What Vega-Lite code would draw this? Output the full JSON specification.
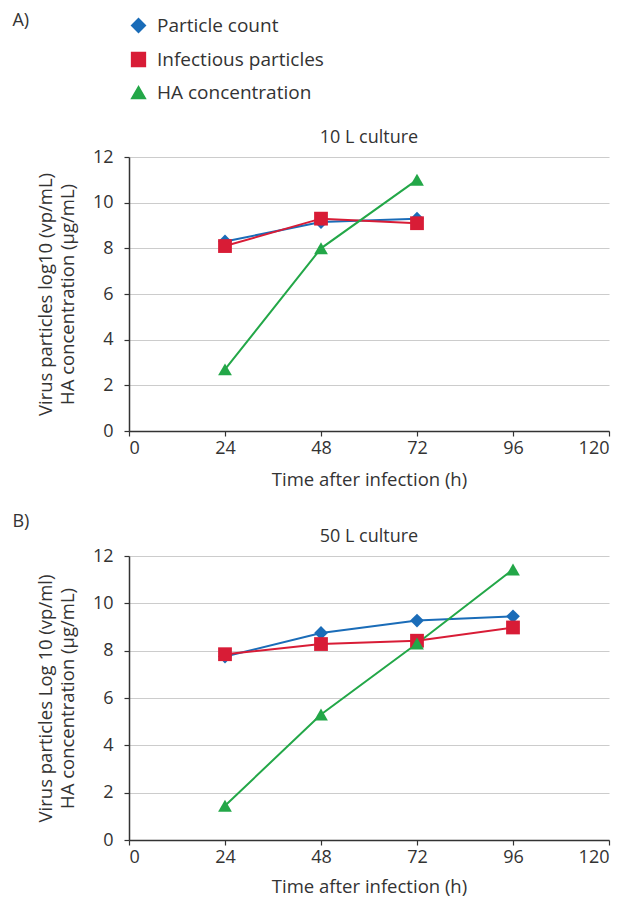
{
  "$schema": "https://vega.github.io/schema/vega-lite/v6.json",
  "background": "white",
  "padding": {"left": 12, "top": 12, "right": 10, "bottom": 0},
  "spacing": 24,
  "datasets": {
    "tenL": [
      {"time": 24, "series": "Particle count", "value": 8.3},
      {"time": 48, "series": "Particle count", "value": 9.15},
      {"time": 72, "series": "Particle count", "value": 9.3},
      {"time": 24, "series": "Infectious particles", "value": 8.1},
      {"time": 48, "series": "Infectious particles", "value": 9.3},
      {"time": 72, "series": "Infectious particles", "value": 9.1},
      {"time": 24, "series": "HA concentration", "value": 2.7},
      {"time": 48, "series": "HA concentration", "value": 8.0},
      {"time": 72, "series": "HA concentration", "value": 11.0}
    ],
    "fiftyL": [
      {"time": 24, "series": "Particle count", "value": 7.75},
      {"time": 48, "series": "Particle count", "value": 8.75},
      {"time": 72, "series": "Particle count", "value": 9.27},
      {"time": 96, "series": "Particle count", "value": 9.45},
      {"time": 24, "series": "Infectious particles", "value": 7.85},
      {"time": 48, "series": "Infectious particles", "value": 8.28},
      {"time": 72, "series": "Infectious particles", "value": 8.42},
      {"time": 96, "series": "Infectious particles", "value": 8.98},
      {"time": 24, "series": "HA concentration", "value": 1.45},
      {"time": 48, "series": "HA concentration", "value": 5.3},
      {"time": 72, "series": "HA concentration", "value": 8.3},
      {"time": 96, "series": "HA concentration", "value": 11.43}
    ]
  },
  "config": {
    "font": "Open Sans",
    "view": {"stroke": null},
    "axis": {
      "labelFontSize": 18,
      "titleFontSize": 18.5,
      "titleFontWeight": "normal",
      "labelColor": "#333333",
      "titleColor": "#333333",
      "domainColor": "#333333",
      "domainWidth": 1.5,
      "tickColor": "#333333",
      "tickWidth": 1.2,
      "tickSize": 5,
      "gridColor": "#cccccc",
      "gridWidth": 1.2
    },
    "axisY": {"labelPadding": 11},
    "axisX": {"labelPadding": 3},
    "title": {"fontSize": 18, "fontWeight": "normal", "color": "#333333", "font": "Open Sans", "offset": 1},
    "legend": {
      "orient": "none",
      "legendX": 0,
      "legendY": -141,
      "labelFontSize": 19,
      "labelColor": "#333333",
      "labelLimit": 400,
      "symbolSize": 190,
      "rowPadding": 13,
      "labelOffset": 9
    }
  },
  "vconcat": [
    {
      "title": {"text": "A)", "anchor": "start", "dx": -24, "offset": 99, "fontSize": 18},
      "vconcat": [
        {
          "title": "10 L culture",
          "width": 480,
          "height": 274,
          "data": {"name": "tenL"},
          "encoding": {
            "x": {"field": "time", "type": "quantitative", "scale": {"domain": [0, 120]}, "axis": {"values": [0, 24, 48, 72, 96, 120], "grid": false, "title": "Time after infection (h)", "titlePadding": 13}},
            "y": {"field": "value", "type": "quantitative", "scale": {"domain": [0, 12]}, "axis": {"values": [0, 2, 4, 6, 8, 10, 12], "grid": true, "title": ["Virus particles log10 (vp/mL)", "HA concentration (µg/mL)"], "titleLineHeight": 22, "titlePadding": 15}}
          },
          "layer": [
            {
              "mark": {"type": "line", "strokeWidth": 2},
              "encoding": {
                "color": {"field": "series", "type": "nominal", "scale": {"domain": ["Particle count", "Infectious particles", "HA concentration"], "range": ["#1a6cb8", "#d81c36", "#23a748"]}, "legend": {"title": null}}
              }
            },
            {
              "mark": {"type": "point", "filled": true, "opacity": 1, "size": 190},
              "encoding": {
                "color": {"field": "series", "type": "nominal", "legend": {"title": null}},
                "shape": {"field": "series", "type": "nominal", "scale": {"domain": ["Particle count", "Infectious particles", "HA concentration"], "range": ["diamond", "square", "triangle-up"]}, "legend": {"title": null}}
              }
            }
          ]
        }
      ]
    },
    {
      "title": {"text": "B)", "anchor": "start", "dx": -24, "offset": -3, "fontSize": 18},
      "vconcat": [
        {
          "title": "50 L culture",
          "width": 480,
          "height": 284,
          "data": {"name": "fiftyL"},
          "encoding": {
            "x": {"field": "time", "type": "quantitative", "scale": {"domain": [0, 120]}, "axis": {"values": [0, 24, 48, 72, 96, 120], "grid": false, "title": "Time after infection (h)", "titlePadding": 11}},
            "y": {"field": "value", "type": "quantitative", "scale": {"domain": [0, 12]}, "axis": {"values": [0, 2, 4, 6, 8, 10, 12], "grid": true, "title": ["Virus particles Log 10 (vp/ml)", "HA concentration (µg/mL)"], "titleLineHeight": 22, "titlePadding": 15}}
          },
          "layer": [
            {
              "mark": {"type": "line", "strokeWidth": 2},
              "encoding": {
                "color": {"field": "series", "type": "nominal", "scale": {"domain": ["Particle count", "Infectious particles", "HA concentration"], "range": ["#1a6cb8", "#d81c36", "#23a748"]}, "legend": {"title": null}}
              }
            },
            {
              "mark": {"type": "point", "filled": true, "opacity": 1, "size": 190},
              "encoding": {
                "color": {"field": "series", "type": "nominal", "legend": {"title": null}},
                "shape": {"field": "series", "type": "nominal", "scale": {"domain": ["Particle count", "Infectious particles", "HA concentration"], "range": ["diamond", "square", "triangle-up"]}, "legend": {"title": null}}
              }
            }
          ]
        }
      ]
    }
  ]
}
